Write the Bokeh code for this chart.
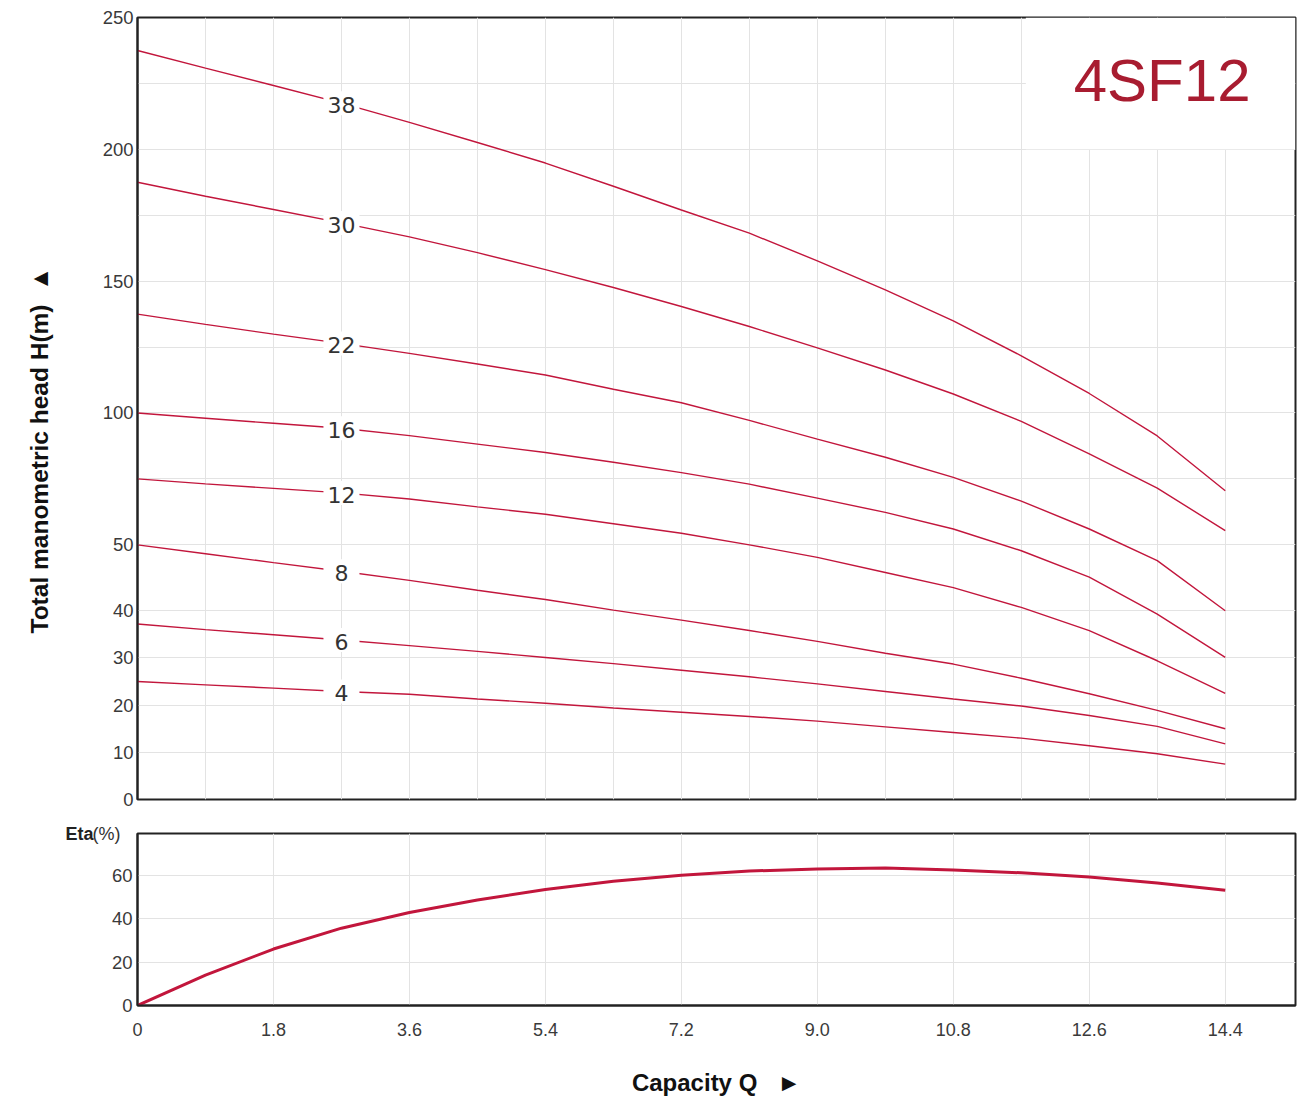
import numpy as np
from bokeh.plotting import figure
from bokeh.layouts import column
from bokeh.models import (ColumnDataSource, Range1d, FixedTicker, CustomJSTickFormatter,
                          CustomJSTransform, Label, BoxAnnotation)
from bokeh.transform import transform
from bokeh.core.properties import value
from bokeh.embed import file_html
from bokeh.resources import INLINE

# ---------------- data ----------------
Q = [0, 0.9, 1.8, 2.7, 3.6, 4.5, 5.4, 6.3, 7.2, 8.1, 9.0, 9.9, 10.8, 11.7, 12.6, 13.5, 14.4]

H38 = [237.5, 230.8, 224.2, 217.5, 210.2, 202.6, 194.8, 186.0, 177.0, 168.2, 157.7, 146.7, 134.9, 121.7, 107.4, 91.3, 70.5]
H30 = [187.5, 182.2, 177.2, 172.1, 166.8, 160.8, 154.4, 147.6, 140.4, 132.8, 124.7, 116.3, 107.2, 96.8, 84.5, 71.5, 55.4]
H22 = [137.5, 133.6, 129.9, 126.4, 122.6, 118.6, 114.4, 109.0, 103.9, 97.2, 90.1, 83.2, 75.6, 66.6, 56.0, 47.6, 40.0]
H16 = [100.0, 98.0, 96.1, 94.2, 91.4, 88.2, 85.0, 81.3, 77.4, 73.0, 67.7, 62.3, 56.0, 49.1, 45.1, 39.3, 30.1]
H12 = [75.0, 73.1, 71.4, 69.7, 67.4, 64.4, 61.6, 58.0, 54.4, 50.0, 48.1, 45.8, 43.5, 40.5, 35.8, 29.4, 22.5]
H8 = [50.0, 48.65, 47.3, 46.0, 44.6, 43.1, 41.7, 40.1, 38.0, 35.8, 33.5, 31.0, 28.7, 25.7, 22.4, 18.9, 15.0]
H6 = [37.2, 36.0, 34.9, 33.8, 32.6, 31.4, 30.1, 28.8, 27.4, 26.0, 24.5, 22.9, 21.3, 19.8, 17.8, 15.5, 11.8]
H4 = [25.0, 24.3, 23.6, 22.9, 22.3, 21.3, 20.4, 19.4, 18.5, 17.6, 16.6, 15.4, 14.2, 13.0, 11.4, 9.7, 7.5]

STAGES = ["38", "30", "22", "16", "12", "8", "6", "4"]
HEADS = {"38": H38, "30": H30, "22": H22, "16": H16, "12": H12, "8": H8, "6": H6, "4": H4}

ETA = [0, 14.0, 26.0, 35.6, 42.8, 48.6, 53.4, 57.2, 60.0, 61.9, 62.9, 63.3, 62.4, 61.1, 59.2, 56.4, 53.1]

H_TICKS = [0, 10, 20, 30, 40, 50, 100, 150, 200, 250]
H_MINOR = [75, 125, 175, 225]
Q_TICKS = [0, 1.8, 3.6, 5.4, 7.2, 9.0, 10.8, 12.6, 14.4]
ETA_TICKS = [0, 20, 40, 60]
MODEL = "4SF12"

# ---------------- style ----------------
CURVE = "#c2163c"
GRID = "#e3e3e3"
FRAME = "#222222"
TICK_FONT = "Liberation Sans"
LABEL_IDX = 3  # curve labels sit at Q = 2.7

# broken head axis: 0-40, 40-50 and 50-250 are drawn with different spacing
BREAK_VALUES = [0, 40, 50, 250]
BREAK_POS = [0, 189, 255, 783]


def head_pos(v):
    return float(np.interp(v, BREAK_VALUES, BREAK_POS))


JS_MAP = """
function m(v) {
  const n = bv.length;
  for (let i = 1; i < n; i++) {
    if (v <= bv[i] || i == n - 1) {
      return bp[i-1] + (v - bv[i-1]) * (bp[i] - bp[i-1]) / (bv[i] - bv[i-1]);
    }
  }
  return v;
}
"""
head_tf = CustomJSTransform(
    args=dict(bv=BREAK_VALUES, bp=BREAK_POS),
    func=JS_MAP + "return m(x);",
    v_func=JS_MAP + "const out = new Float64Array(xs.length); for (let k = 0; k < xs.length; k++) { out[k] = m(xs[k]); } return out;",
)

x_range = Range1d(0, 15.33)

# ---------------- head panel ----------------
p1 = figure(width=1306, height=811, x_range=x_range, y_range=Range1d(0, 783),
            x_axis_location=None, output_backend="svg", toolbar_location=None,
            min_border_left=137, min_border_right=11, min_border_top=17, min_border_bottom=12)
p1.background_fill_color = "white"
p1.border_fill_color = "white"
p1.outline_line_color = FRAME
p1.outline_line_width = 2

p1.xgrid.ticker = FixedTicker(ticks=[round(0.9 * k, 1) for k in range(1, 17)])
p1.xgrid.grid_line_color = GRID

tick_pos = [head_pos(v) for v in H_TICKS]
p1.yaxis.ticker = FixedTicker(ticks=tick_pos, minor_ticks=[head_pos(v) for v in H_MINOR])
p1.yaxis.formatter = CustomJSTickFormatter(
    args=dict(pos=tick_pos, labs=[str(v) for v in H_TICKS]),
    code="""
let best = 0;
for (let i = 0; i < pos.length; i++) { if (Math.abs(pos[i] - tick) < Math.abs(pos[best] - tick)) best = i; }
return labs[best];
""")
p1.ygrid.grid_line_color = GRID
p1.ygrid.minor_grid_line_color = GRID
for ax in p1.yaxis:
    ax.major_tick_line_color = None
    ax.minor_tick_line_color = None
    ax.major_tick_out = 0
    ax.major_tick_in = 0
    ax.minor_tick_out = 0
    ax.axis_line_color = FRAME
    ax.axis_line_width = 2
    ax.major_label_standoff = 4
    ax.major_label_text_font = TICK_FONT
    ax.major_label_text_font_size = "18.5px"
    ax.major_label_text_color = "#3a3a3a"

# white area behind the model name
p1.add_layout(BoxAnnotation(left=11.76, right=15.33, bottom=head_pos(200), top=783,
                            fill_color="white", fill_alpha=1.0, line_color=None, level="underlay"))

for s in STAGES:
    src = ColumnDataSource(dict(q=Q, h=HEADS[s]))
    p1.line("q", transform("h", head_tf), source=src, line_color=CURVE, line_width=1.4)

lab_src = ColumnDataSource(dict(q=[Q[LABEL_IDX]] * len(STAGES),
                                h=[HEADS[s][LABEL_IDX] for s in STAGES],
                                t=STAGES))
p1.rect("q", transform("h", head_tf), width=36, height=24, width_units="screen",
        height_units="screen", source=lab_src, fill_color="white", line_color=None)
p1.text("q", transform("h", head_tf), text="t", source=lab_src,
        text_font=value("DejaVu Sans"), text_font_size=value("22px"),
        text_align="center", text_baseline="middle", text_color="#333333", y_offset=2)

p1.add_layout(Label(x=1113, y=719, x_units="screen", y_units="screen", text=MODEL,
                    text_align="right", text_baseline="middle", text_font="Liberation Sans",
                    text_font_size="60px", text_color="#a81c30"))

# rotated head-axis title, placed in the left panel outside the axis (not clipped by the frame)
y_title = Label(x=-33, y=166, x_units="screen", y_units="screen",
                text="Total manometric head H(m)\u00a0\u00a0\u25B2", angle=np.pi / 2,
                text_align="left", text_baseline="middle", text_font="Liberation Sans",
                text_font_style="bold", text_font_size="24.5px", text_color="#111111")
p1.left = list(p1.left) + [y_title]

# ---------------- efficiency panel ----------------
p2 = figure(width=1306, height=287, x_range=x_range, y_range=Range1d(0, 79.2),
            output_backend="svg", toolbar_location=None,
            min_border_left=137, min_border_right=11, min_border_top=22, min_border_bottom=92)
p2.background_fill_color = "white"
p2.border_fill_color = "white"
p2.outline_line_color = FRAME
p2.outline_line_width = 2

p2.line("q", "eta", source=ColumnDataSource(dict(q=Q, eta=ETA)), line_color=CURVE, line_width=3)

p2.xaxis.ticker = FixedTicker(ticks=Q_TICKS)
p2.xaxis.formatter = CustomJSTickFormatter(code="return tick == 0 ? '0' : tick.toFixed(1);")
p2.xaxis.axis_label = "Capacity Q\u00a0\u00a0 \u25BA"
p2.yaxis.ticker = FixedTicker(ticks=ETA_TICKS)
p2.xgrid.grid_line_color = GRID
p2.ygrid.grid_line_color = GRID
for ax in list(p2.xaxis) + list(p2.yaxis):
    ax.major_tick_line_color = None
    ax.minor_tick_line_color = None
    ax.major_tick_out = 0
    ax.major_tick_in = 0
    ax.minor_tick_out = 0
    ax.axis_line_color = FRAME
    ax.axis_line_width = 2
    ax.major_label_text_font = TICK_FONT
    ax.major_label_text_color = "#3a3a3a"
p2.xaxis.major_label_text_font_size = "18px"
p2.yaxis.major_label_text_font_size = "18.5px"
p2.xaxis.major_label_standoff = 17
p2.yaxis.major_label_standoff = 5
p2.xaxis.axis_label_standoff = 30
p2.xaxis.axis_label_text_font = TICK_FONT
p2.xaxis.axis_label_text_font_style = "bold"
p2.xaxis.axis_label_text_font_size = "24px"
p2.xaxis.axis_label_text_color = "#111111"

eta_word = Label(x=-15, y=172, x_units="screen", y_units="screen", text="Eta",
                 text_align="left", text_baseline="middle", text_font=TICK_FONT,
                 text_font_style="bold", text_font_size="18px", text_color="#222222")
eta_unit = Label(x=40, y=172, x_units="screen", y_units="screen", text="(%)",
                 text_align="left", text_baseline="middle", text_font=TICK_FONT,
                 text_font_size="18px", text_color="#333333")
p2.left = list(p2.left) + [eta_word, eta_unit]

layout = column(p1, p2, spacing=0)
open("out.html", "w").write(file_html(layout, INLINE))
